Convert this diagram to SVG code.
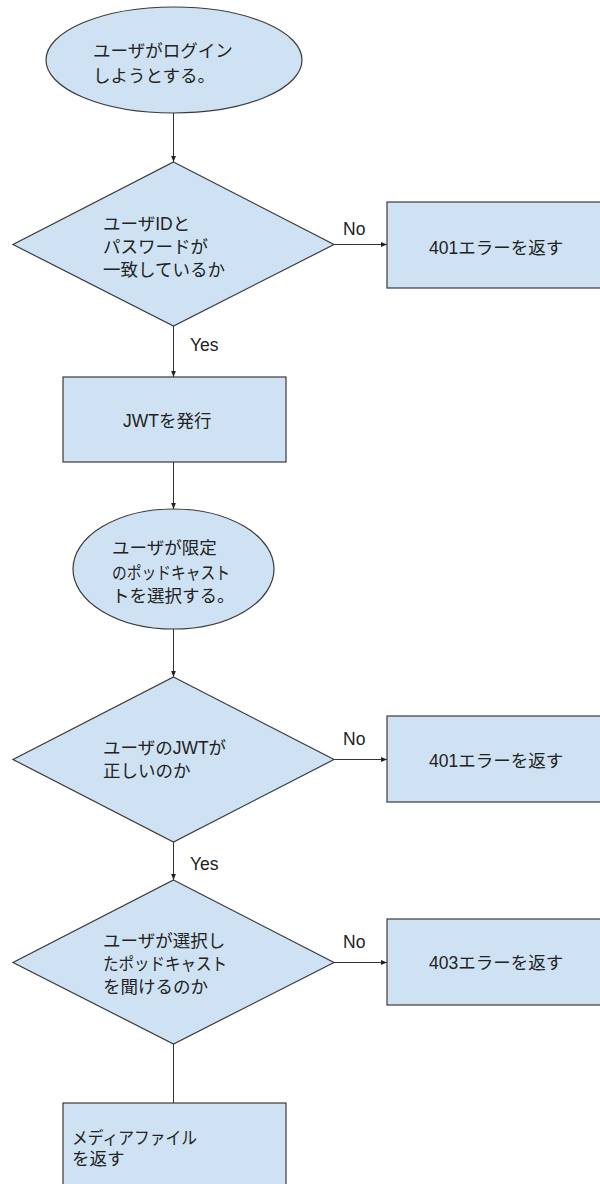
<svg xmlns="http://www.w3.org/2000/svg" width="600" height="1184" viewBox="0 0 600 1184">
  <defs>
    <marker id="arrow" markerUnits="userSpaceOnUse" markerWidth="6" markerHeight="6" viewBox="0 0 6 6" refX="6" refY="3" orient="auto">
      <path d="M0,0.6 L6,3 L0,5.4 Z" fill="#222"/>
    </marker>
    <style>
      .shape { fill: #cfe2f3; stroke: #3a3a3a; stroke-width: 1.2; }
      .conn { fill: none; stroke: #333; stroke-width: 1; }
      .t { font-family: "Liberation Sans", "Noto Sans CJK JP", sans-serif; font-size: 17.5px; fill: #222; }
    </style>
  </defs>
  <rect x="0" y="0" width="600" height="1184" fill="#ffffff"/>

  <g id="connectors">
    <line class="conn" x1="173.5" y1="113" x2="173.5" y2="162" marker-end="url(#arrow)"/>
    <line class="conn" x1="334" y1="244.5" x2="387" y2="244.5" marker-end="url(#arrow)"/>
    <line class="conn" x1="173.5" y1="326" x2="173.5" y2="377" marker-end="url(#arrow)"/>
    <line class="conn" x1="173.5" y1="462" x2="173.5" y2="509" marker-end="url(#arrow)"/>
    <line class="conn" x1="173.5" y1="629" x2="173.5" y2="677" marker-end="url(#arrow)"/>
    <line class="conn" x1="334" y1="759.5" x2="387" y2="759.5" marker-end="url(#arrow)"/>
    <line class="conn" x1="173.5" y1="842" x2="173.5" y2="880" marker-end="url(#arrow)"/>
    <line class="conn" x1="334" y1="962.5" x2="387" y2="962.5" marker-end="url(#arrow)"/>
    <line class="conn" x1="173.5" y1="1044" x2="173.5" y2="1103"/>
    <text class="t" x="343" y="235">No</text>
    <text class="t" x="190" y="351">Yes</text>
    <text class="t" x="343" y="745">No</text>
    <text class="t" x="190" y="870">Yes</text>
    <text class="t" x="343" y="948">No</text>
  </g>

  <g id="start-login">
    <ellipse class="shape" cx="174" cy="60" rx="128" ry="53"/>
    <text class="t" x="93" y="57">ユーザがログイン</text>
    <text class="t" x="93" y="82">しようとする。</text>
  </g>

  <g id="check-credentials">
    <polygon class="shape" points="173.5,162 334,244.5 173.5,326 13,244.5"/>
    <text class="t" x="103" y="230">ユーザIDと</text>
    <text class="t" x="103" y="253">パスワードが</text>
    <text class="t" x="103" y="276">一致しているか</text>
  </g>

  <g id="error-401-a">
    <rect class="shape" x="387" y="202" width="220" height="86"/>
    <text class="t" x="429" y="254">401エラーを返す</text>
  </g>

  <g id="issue-jwt">
    <rect class="shape" x="63" y="377" width="223" height="85"/>
    <text class="t" x="123" y="427">JWTを発行</text>
  </g>

  <g id="select-podcast">
    <ellipse class="shape" cx="173.5" cy="569" rx="100.5" ry="60"/>
    <text class="t" x="112" y="554">ユーザが限定</text>
    <text class="t" x="112" y="579" textLength="118" lengthAdjust="spacingAndGlyphs">のポッドキャスト</text>
    <text class="t" x="112" y="602">トを選択する。</text>
  </g>

  <g id="check-jwt">
    <polygon class="shape" points="173.5,677 334,759.5 173.5,842 13,759.5"/>
    <text class="t" x="103" y="754">ユーザのJWTが</text>
    <text class="t" x="103" y="777">正しいのか</text>
  </g>

  <g id="error-401-b">
    <rect class="shape" x="387" y="716" width="220" height="86"/>
    <text class="t" x="429" y="767">401エラーを返す</text>
  </g>

  <g id="check-permission">
    <polygon class="shape" points="173.5,880 334,962.5 173.5,1044 13,962.5"/>
    <text class="t" x="103" y="947">ユーザが選択し</text>
    <text class="t" x="103" y="970" textLength="124" lengthAdjust="spacingAndGlyphs">たポッドキャスト</text>
    <text class="t" x="103" y="993">を聞けるのか</text>
  </g>

  <g id="error-403">
    <rect class="shape" x="387" y="919" width="220" height="86"/>
    <text class="t" x="429" y="969">403エラーを返す</text>
  </g>

  <g id="return-media">
    <rect class="shape" x="63" y="1103" width="223" height="95"/>
    <text class="t" x="72" y="1144" textLength="125" lengthAdjust="spacingAndGlyphs">メディアファイル</text>
    <text class="t" x="72" y="1165">を返す</text>
  </g>
</svg>
